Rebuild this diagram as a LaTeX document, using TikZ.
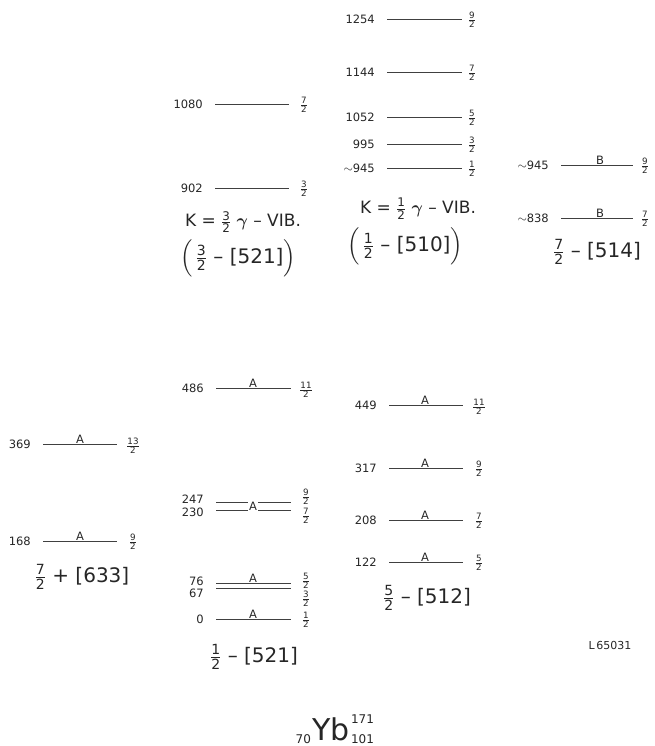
\documentclass[tikz,border=0pt]{standalone}
\usepackage{amsmath}
\usepackage{fontspec}
\setmainfont{DejaVu Sans}
\usetikzlibrary{calc}
\newcommand\fr[2]{$\tfrac{\text{#1}}{\text{#2}}$}
\tikzset{
 lev/.style={line width=0.8pt, draw=black!75},
 en/.style={font=\fontsize{11.5}{12}\selectfont, text=black!85, anchor=east, inner sep=0pt},
 sp/.style={font=\fontsize{12.5}{13}\selectfont, text=black!85, inner sep=0pt},
 tag/.style={font=\fontsize{11.5}{12}\selectfont, text=black!85, anchor=south, inner sep=0.6pt},
 band/.style={font=\fontsize{20}{24}\selectfont, text=black!85, inner sep=0pt},
 kvib/.style={font=\fontsize{17}{20}\selectfont, text=black!85, inner sep=0pt},
}
\def\spx{15}
% name, xl, xr, y, energy, num, den, dyE, dyS
\newcommand\lev[9]{%
  \coordinate (#1l) at (#2,#4);
  \coordinate (#1r) at (#3,#4);
  \draw[lev] (#1l) -- (#1r);
  \node[en] (#1e) at ($(#1l)+(-12,#8)$) {#5};
  \node[sp] (#1s) at ($(#1r)+(\spx,#9)$) {\fr{#6}{#7}};
}
\begin{document}
\begin{tikzpicture}[x=1pt,y=-1pt]
\useasboundingbox (0,0) rectangle (654,746);
% column 1 : 7/2 + [633]
\def\spx{16}
\lev{a369}{43}{117}{444}{369}{13}{2}{0}{2}
\lev{a168}{43}{117}{541}{168}{9}{2}{0}{1}
\node[tag] (ta369) at (80,444) {A};
\node[tag] (ta168) at (80,541) {A};
\node[band] (ba) at (82,577) {\fr{7}{2} + [633]};
% column 2 : 1/2 - [521]
\def\spx{15}
\lev{b486}{216}{291}{388}{486}{11}{2}{0}{2}
\lev{b247}{216}{291}{502}{247}{9}{2}{-3}{-5}
\lev{b230}{216}{291}{510}{230}{7}{2}{2}{6}
\lev{b76}{216}{291}{583}{76}{5}{2}{-2}{-2}
\lev{b67}{216}{291}{588}{67}{3}{2}{5}{11}
\lev{b0}{216}{291}{619}{0}{1}{2}{0}{1}
\node[tag] (tb486) at (253,388) {A};
\node[tag, anchor=center, fill=white, inner sep=1.2pt] (tb247) at (253,506) {A};
\node[tag] (tb76) at (253,583) {A};
\node[tag] (tb0) at (253,619) {A};
\node[band] (bb) at (254,657) {\fr{1}{2} -- [521]};
% column 2 top : K=3/2 gamma vib
\lev{c1080}{215}{289}{104}{1080}{7}{2}{0}{1}
\lev{c902}{215}{289}{188}{902}{3}{2}{0}{1}
\node[kvib] (kc) at (243,222) {K = \fr{3}{2} $\boldsymbol{\gamma}$ -- VIB.};
\node[band] (bc) at (238,258) {$\Bigl($\,\fr{3}{2} -- [521]$\Bigr)$};
% column 3 top : K=1/2 gamma vib
\def\spx{10}
\lev{d1254}{387}{462}{19}{1254}{9}{2}{0}{1}
\lev{d1144}{387}{462}{72}{1144}{7}{2}{0}{1}
\lev{d1052}{387}{462}{117}{1052}{5}{2}{0}{1}
\lev{d995}{387}{462}{144}{995}{3}{2}{0}{1}
\lev{d945}{387}{462}{168}{$\sim$945}{1}{2}{0}{1}
\node[kvib] (kd) at (418,209) {K = \fr{1}{2} $\boldsymbol{\gamma}$ -- VIB.};
\node[band] (bd) at (405,246) {$\Bigl($\,\fr{1}{2} -- [510]$\Bigr)$};
% column 3 bottom : 5/2 - [512]
\def\spx{16}
\lev{e449}{389}{463}{405}{449}{11}{2}{0}{2}
\lev{e317}{389}{463}{468}{317}{9}{2}{0}{1}
\lev{e208}{389}{463}{520}{208}{7}{2}{0}{1}
\lev{e122}{389}{463}{562}{122}{5}{2}{0}{1}
\node[tag] (te449) at (425,405) {A};
\node[tag] (te317) at (425,468) {A};
\node[tag] (te208) at (425,520) {A};
\node[tag] (te122) at (425,562) {A};
\node[band] (be) at (427,598) {\fr{5}{2} -- [512]};
% column 4 : 7/2 - [514]
\def\spx{12}
\lev{f945}{561}{633}{165}{$\sim$945}{9}{2}{0}{1}
\lev{f838}{561}{633}{218}{$\sim$838}{7}{2}{0}{1}
\node[tag] (tf945) at (600,165) {B};
\node[tag] (tf838) at (600,218) {B};
\node[band] (bf) at (597,252) {\fr{7}{2} -- [514]};
% labels
\node[font=\fontsize{11}{12}\selectfont, text=black!85, inner sep=0pt] (ref) at (610,645) {L\,65031};
\node[font=\fontsize{30}{32}\selectfont, text=black!85, inner sep=0pt, anchor=base] (yb) at (331,740) {Yb};
\node[font=\fontsize{12}{13}\selectfont, text=black!85, inner sep=0pt, anchor=base east] (zz) at ($(yb.base west)+(-1,3)$) {70};
\node[font=\fontsize{12}{13}\selectfont, text=black!85, inner sep=0pt, anchor=base west] (nn) at ($(yb.base east)+(1,3)$) {101};
\node[font=\fontsize{12}{13}\selectfont, text=black!85, inner sep=0pt, anchor=base west] (aa) at ($(yb.base east)+(1,-17)$) {171};
\end{tikzpicture}
\end{document}
